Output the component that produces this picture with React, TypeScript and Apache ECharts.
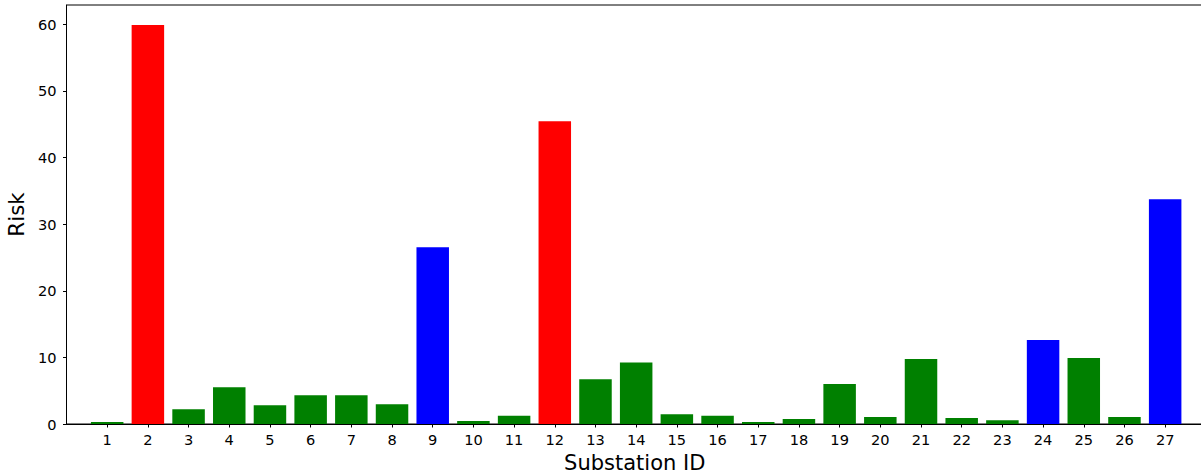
import React, { useEffect, useRef } from "react";
import * as echarts from "echarts";

const substationIds = [1, 2, 3, 4, 5, 6, 7, 8, 9, 10, 11, 12, 13, 14, 15, 16, 17, 18, 19, 20, 21, 22, 23, 24, 25, 26, 27];
const riskValues = [0.3, 59.9, 2.2, 5.5, 2.8, 4.3, 4.3, 2.95, 26.55, 0.45, 1.25, 45.45, 6.7, 9.25, 1.45, 1.25, 0.3, 0.75, 6.0, 1.05, 9.75, 0.9, 0.55, 12.6, 9.9, 1.05, 33.75];
const riskLevels = ["low", "high", "low", "low", "low", "low", "low", "low", "medium", "low", "low", "high", "low", "low", "low", "low", "low", "low", "low", "low", "low", "low", "low", "medium", "low", "low", "medium"];
const yTicks = [0, 10, 20, 30, 40, 50, 60];

const levelColors: Record<string, string> = { high: "#ff0000", medium: "#0000ff", low: "#008000" };

export default function App() {
  const ref = useRef<HTMLDivElement>(null);
  useEffect(() => {
    if (!ref.current) return;
    const chart = echarts.init(ref.current, null, { renderer: "svg" });
    const font = "DejaVu Sans";
    chart.setOption({
      animation: false,
      textStyle: { fontFamily: font },
      grid: {
        left: 66.5,
        right: -2,
        top: 5,
        bottom: 52,
        containLabel: false,
        outerBoundsMode: "none",
        show: true,
        borderColor: "#000",
        borderWidth: 1,
        backgroundColor: "transparent",
      },
      xAxis: {
        type: "value",
        min: 0,
        max: 27.93,
        interval: 1,
        name: "Substation ID",
        nameLocation: "middle",
        nameGap: 31,
        nameTextStyle: { fontSize: 21, lineHeight: 16, color: "#000", fontFamily: font },
        axisLine: { show: true, onZero: false, lineStyle: { color: "#000", width: 1 } },
        axisTick: { show: true, length: 3.5, lineStyle: { color: "#000" }, customValues: substationIds },
        axisLabel: { fontSize: 14.6, color: "#000", margin: 8, fontFamily: font, customValues: substationIds },
        splitLine: { show: false },
      },
      yAxis: {
        type: "value",
        min: 0,
        max: 62.9,
        interval: 10,
        name: "Risk",
        nameLocation: "middle",
        nameGap: 39,
        nameRotate: 90,
        nameTextStyle: { fontSize: 21.4, color: "#000", fontFamily: font },
        axisLine: { show: true, lineStyle: { color: "#000", width: 1 } },
        axisTick: { show: true, length: 3.5, lineStyle: { color: "#000" }, customValues: yTicks },
        axisLabel: { fontSize: 14.6, color: "#000", margin: 10, fontFamily: font, customValues: yTicks },
        splitLine: { show: false },
      },
      series: [
        {
          type: "bar",
          barWidth: 32.5,
          data: substationIds.map((id, i) => ({
            value: [id, riskValues[i]],
            itemStyle: { color: levelColors[riskLevels[i]] },
          })),
        },
      ],
    });
    return () => chart.dispose();
  }, []);
  return <div ref={ref} style={{ position: "fixed", left: 0, top: 0, width: 1201, height: 476, background: "#fff" }} />;
}
